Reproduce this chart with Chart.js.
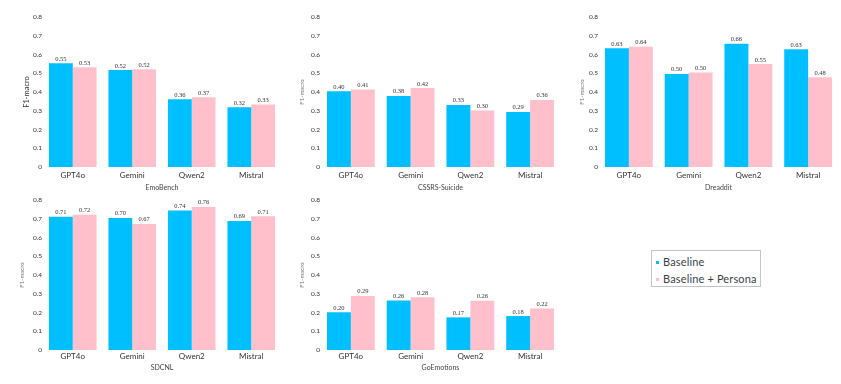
<!DOCTYPE html>
<html>
<head>
<meta charset="utf-8">
<script src="https://cdn.jsdelivr.net/npm/chart.js@4.4.0/dist/chart.umd.min.js"></script>
<style>
  body { margin: 0; background: #fff; width: 841px; height: 384px; position: relative; overflow: hidden; }
  canvas { position: absolute; }
  #legend { position: absolute; left: 651px; top: 250px; width: 108px; height: 35px; border: 1px solid #c4c4c4; font-family: Lato, sans-serif; font-size: 11px; letter-spacing: 0.15px; color: #3a3f4a; }
  .row { position: absolute; left: 4px; height: 14px; line-height: 14px; white-space: nowrap; }
  .mark { display: inline-block; width: 3px; height: 3px; margin-right: 4px; vertical-align: middle; position: relative; top: -1px; }
</style>
</head>
<body>
<canvas id="emo"></canvas>
<canvas id="cssrs"></canvas>
<canvas id="dread"></canvas>
<canvas id="sdcnl"></canvas>
<canvas id="goemo"></canvas>
<div id="legend">
  <div class="row" style="top:4px"><span class="mark" style="background:#00bfff"></span>Baseline</div>
  <div class="row" style="top:21px"><span class="mark" style="background:#ffc0cb"></span>Baseline + Persona</div>
</div>
<script>
'use strict';

let models = ['GPT4o', 'Gemini', 'Qwen2', 'Mistral'];
let tickLabels = ['0', '0.1', '0.2', '0.3', '0.4', '0.5', '0.6', '0.7', '0.8'];
let seriesNames = ['Baseline', 'Baseline + Persona'];

let emoBase = [0.553, 0.517, 0.362, 0.319];
let emoPersona = [0.532, 0.521, 0.372, 0.334];
let cssrsBase = [0.404, 0.379, 0.331, 0.294];
let cssrsPersona = [0.414, 0.421, 0.302, 0.358];
let dreadBase = [0.633, 0.496, 0.658, 0.628];
let dreadPersona = [0.641, 0.504, 0.549, 0.479];
let sdcnlBase = [0.711, 0.704, 0.744, 0.688];
let sdcnlPersona = [0.722, 0.672, 0.763, 0.713];
let goemoBase = [0.201, 0.264, 0.174, 0.181];
let goemoPersona = [0.288, 0.281, 0.263, 0.221];

// numbers above each bar
let valueLabels = {
  id: 'valueLabels',
  afterDatasetsDraw(chart) {
    let ctx = chart.ctx;
    ctx.save();
    ctx.font = '6.5px "Liberation Serif"';
    ctx.fillStyle = '#333';
    ctx.textAlign = 'center';
    ctx.textBaseline = 'bottom';
    chart.data.datasets.forEach(function (ds, i) {
      chart.getDatasetMeta(i).data.forEach(function (bar, j) {
        ctx.fillText(ds.data[j].toFixed(2), bar.x, bar.y - 1);
      });
    });
    ctx.restore();
  }
};

function makePanel(id, title, base, persona, box) {
  let canvas = document.getElementById(id);
  canvas.width = box.w;
  canvas.height = box.h;
  canvas.style.left = box.left + 'px';
  canvas.style.top = box.top + 'px';

  new Chart(canvas, {
    type: 'bar',
    data: {
      labels: models,
      datasets: [
        { label: seriesNames[0], data: base, backgroundColor: '#00bfff', barPercentage: 1, categoryPercentage: 0.8 },
        { label: seriesNames[1], data: persona, backgroundColor: '#ffc0cb', barPercentage: 1, categoryPercentage: 0.8 }
      ]
    },
    options: {
      responsive: false,
      animation: false,
      layout: { padding: { top: box.padTop, right: box.padRight, left: 0, bottom: 0 } },
      plugins: { legend: { display: false }, tooltip: { enabled: false } },
      scales: {
        x: {
          grid: { display: false, drawTicks: false },
          border: { display: false },
          ticks: { padding: box.tickPad, color: '#333', font: { family: 'Lato', size: 8 } },
          title: { display: true, text: title, color: '#444', font: { family: 'Lato', size: 7 }, padding: { top: 0, bottom: 3 } },
          afterFit: function (scale) { scale.height = box.xH; }
        },
        y: {
          min: 0,
          max: 0.8,
          grid: { display: false, drawTicks: false },
          border: { display: false },
          ticks: {
            stepSize: 0.1,
            padding: 1,
            color: '#333',
            font: { family: 'Lato', size: 6.5 },
            callback: function (v, i) { return tickLabels[i]; }
          },
          title: { display: true, text: 'F1-macro', color: box.yColor, font: { family: 'Lato', size: box.ySize }, padding: { top: box.yPad, bottom: 0 } },
          afterFit: function (scale) { scale.width = box.yW; }
        }
      }
    },
    plugins: [valueLabels]
  });
}

makePanel('emo', 'EmoBench', emoBase, emoPersona,
  { left: 0, top: 0, w: 290, h: 195, yW: 43, padTop: 17, padRight: 9, xH: 28, tickPad: 4, yColor: '#333', ySize: 7.5, yPad: 22.5 });
makePanel('cssrs', 'CSSRS-Suicide', cssrsBase, cssrsPersona,
  { left: 290, top: 0, w: 280, h: 195, yW: 31, padTop: 17, padRight: 10, xH: 28, tickPad: 4, yColor: '#777', ySize: 6, yPad: 8.4 });
makePanel('dread', 'Dreaddit', dreadBase, dreadPersona,
  { left: 570, top: 0, w: 271, h: 195, yW: 29, padTop: 17, padRight: 3, xH: 28, tickPad: 4, yColor: '#777', ySize: 6, yPad: 8.4 });
makePanel('sdcnl', 'SDCNL', sdcnlBase, sdcnlPersona,
  { left: 0, top: 190, w: 290, h: 185, yW: 43, padTop: 10, padRight: 9, xH: 25, tickPad: 2, yColor: '#777', ySize: 6, yPad: 18.4 });
makePanel('goemo', 'GoEmotions', goemoBase, goemoPersona,
  { left: 290, top: 190, w: 280, h: 185, yW: 31, padTop: 10, padRight: 10, xH: 25, tickPad: 2, yColor: '#777', ySize: 6, yPad: 8.4 });
</script>
</body>
</html>
